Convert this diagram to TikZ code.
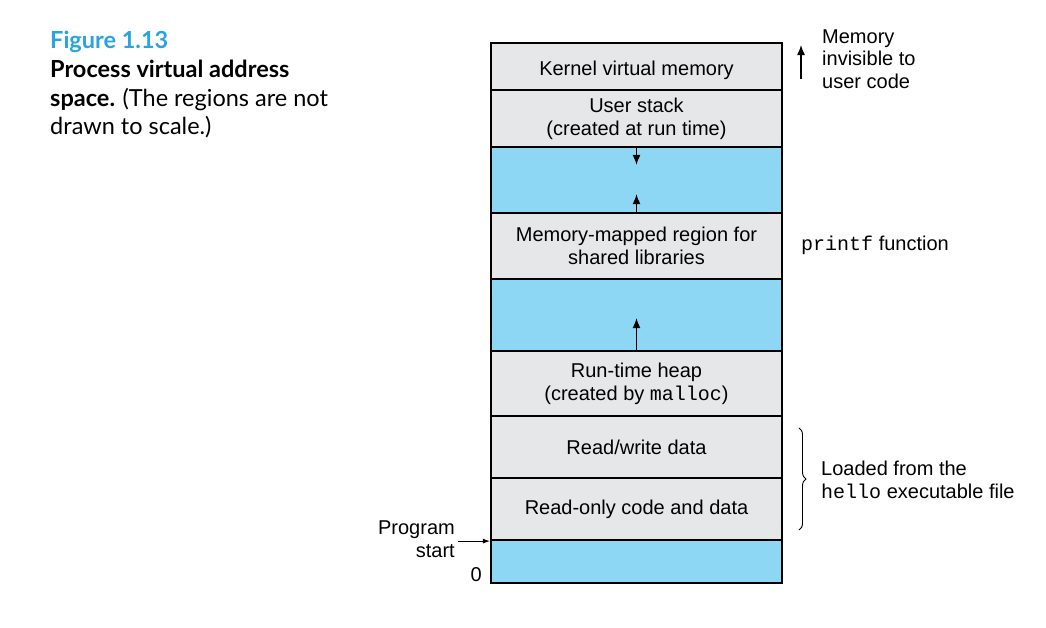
\documentclass[tikz,border=0pt]{standalone}
\usepackage{fontspec}
\setmainfont{Liberation Sans}
\setmonofont{Liberation Mono}
\newfontfamily\capfont{Lato}
\usetikzlibrary{decorations.pathreplacing,arrows.meta}
\definecolor{segfill}{HTML}{E6E7E8}
\definecolor{holefill}{HTML}{8DD7F5}
\definecolor{figblue}{HTML}{2BA3DC}

\begin{document}
\begin{tikzpicture}[x=1pt,y=-1pt,
    seg/.style={draw, line width=2.2pt, fill=segfill, minimum width=291pt, inner sep=0pt, align=center, font=\fontsize{20}{23}\selectfont},
    hole/.style={seg, fill=holefill},
    growarr/.style={-{Latex[length=10pt,width=8pt]}, line width=1.3pt},
    lbl/.style={align=left, anchor=west, font=\fontsize{20}{22.5}\selectfont}]
    \useasboundingbox (0,0) rectangle (1046,627);
    % caption
    \node (cap) [anchor=north west, align=left, inner sep=0pt, font=\capfont\fontsize{23.5}{28.7}\selectfont] at (50,31)
        {\textcolor{figblue}{\bfseries Figure 1.13}\\ \bfseries Process virtual address\\ \bfseries space. \mdseries (The regions are not\\ drawn to scale.)};
    % address space, top to bottom
    \node (kern)   [seg,  minimum height=47pt, text height=17pt, text depth=0pt] at (636.5,66.5) {Kernel virtual memory};
    \node (stack)  [seg,  minimum height=57pt] at (636.5,118.5) {User stack\\(created at run time)};
    \node (gapA)   [hole, minimum height=66pt] at (636.5,180)   {};
    \node (mmap)   [seg,  minimum height=66pt] at (636.5,246)   {Memory-mapped region for\\shared libraries};
    \node (gapB)   [hole, minimum height=72pt] at (636.5,315)   {};
    \node (heap)   [seg,  minimum height=65pt] at (636.5,383.5) {Run-time heap\\(created by \texttt{malloc})};
    \node (rwdata) [seg,  minimum height=62pt] at (636.5,447)   {Read/write data};
    \node (rodata) [seg,  minimum height=62pt] at (636.5,509)   {Read-only code and data};
    \node (gapC)   [hole, minimum height=43pt] at (636.5,561.5) {};
    % growth arrows
    \draw [growarr] (gapA.north) -- ++(0,19);
    \draw [growarr] (gapA.south) -- ++(0,-20);
    \draw [growarr] (gapB.south) -- ++(0,-34);
    % right side notes
    \coordinate (inv) at (801,79);
    \draw [growarr] (inv) -- ++(0,-34);
    \node (invtxt) [lbl, inner sep=0pt] at (822,59) {Memory\\invisible to\\user code};
    \node (prtxt) [lbl, inner sep=0pt] at (801,245) {\texttt{printf} function};
    \draw [decorate, decoration={brace, amplitude=7pt}, line width=0.9pt] (799,428) -- (799,530);
    \node (ldtxt) [lbl, inner sep=0pt] at (821,480) {Loaded from the\\\texttt{hello} executable file};
    % left side notes
    \node (start) [align=right, anchor=east, inner sep=0pt, font=\fontsize{20}{22.5}\selectfont] at (455,539) {Program\\start};
    \draw [-{Latex[length=7pt,width=5pt]}, line width=0.9pt] ([xshift=3pt]start.east |- rodata.south) -- (rodata.south west);
    \node (zero) [anchor=east, inner sep=0pt, font=\fontsize{20}{22}\selectfont] at (482,575) {0};
\end{tikzpicture}
\end{document}
